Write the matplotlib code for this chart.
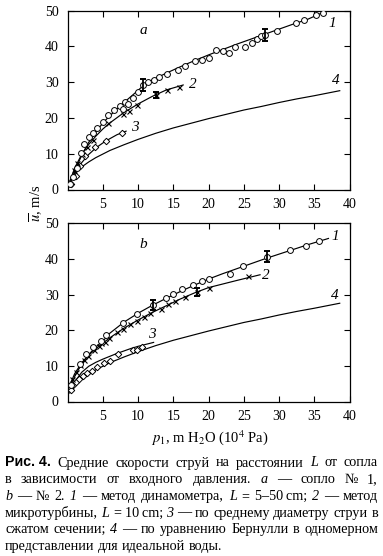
import matplotlib
matplotlib.use('Agg')
import matplotlib.pyplot as plt

plt.rcParams['font.family'] = ['Liberation Serif', 'DejaVu Serif']
plt.rcParams['mathtext.fontset'] = 'stix'

# ---------------- data ----------------
x_ticks = [5, 10, 15, 20, 25, 30, 35, 40]
y_ticks = [0, 10, 20, 30, 40, 50]

# Bernoulli curve (4), same on both panels
c4_x = [0.3, 0.5, 0.8, 1.0, 1.5, 2.0, 2.5, 3.0, 4.0, 5.0, 6.0, 7.0, 8.0, 10.0, 12.5, 15.0, 17.5, 20.0, 22.5, 25.0, 27.5, 30.0, 32.5, 35.0, 38.6]
c4_y = [2.4, 3.1, 4.0, 4.4, 5.4, 6.3, 7.0, 7.7, 8.9, 9.9, 10.9, 11.7, 12.5, 14.0, 15.7, 17.2, 18.5, 19.8, 21.0, 22.2, 23.2, 24.3, 25.3, 26.2, 27.6]

# ---- panel a ----
a1_x = [0.4, 0.7, 1.4, 1.9, 2.3, 3.0, 3.6, 4.2, 5.0, 5.8, 6.6, 7.4, 7.9, 8.1, 8.6, 9.3, 10.0, 10.7, 11.4,
        12.2, 12.9, 14.1, 15.7, 16.7, 18.1, 19.1, 20.1, 21.1, 22.1, 22.9, 23.8, 25.1, 26.1, 26.8, 27.4,
        28.0, 29.7, 32.4, 33.6, 35.2, 36.2]
a1_y = [1.6, 3.4, 5.9, 10.3, 12.8, 14.7, 15.9, 17.3, 18.8, 20.8, 22.1, 23.3, 22.4, 24.5, 24.0, 25.6, 27.2, 29.2, 30.0,
        30.5, 31.3, 32.2, 33.5, 34.6, 35.9, 36.1, 36.6, 39.1, 38.6, 38.2, 39.8, 39.8, 41.0, 41.9, 42.8,
        43.2, 44.2, 46.4, 47.3, 48.7, 49.2]
a1_err_x = [10.7, 28.0]
a1_err_y = [29.2, 43.2]
a1_err = [1.8, 1.6]
a1_fit_x = [0.3, 1, 2, 3, 4, 5, 6, 7, 8, 9, 10, 11, 12, 14, 16, 18, 20, 22, 24, 26, 28, 30, 32, 34, 36.5]
a1_fit_y = [1.5, 5.0, 9.6, 13.2, 16.0, 18.6, 20.6, 22.5, 24.3, 26.0, 27.7, 29.5, 30.6, 32.5, 34.3, 36.0, 37.6,
            39.1, 40.6, 42.0, 43.4, 44.8, 46.2, 47.5, 49.7]

a2_x = [0.9, 1.3, 2.0, 2.8, 3.6, 5.8, 7.9, 8.7, 9.9, 12.6, 14.1, 15.8]
a2_y = [5.5, 7.3, 10.0, 12.0, 13.8, 18.5, 21.0, 22.0, 23.5, 26.4, 27.8, 28.6]
a2_err_x = [12.6]
a2_err_y = [26.4]
a2_err = [0.8]
a2_fit_x = [0.5, 1, 2, 3, 4, 5, 6, 8, 10, 12, 14, 16.4]
a2_fit_y = [3.2, 6.0, 9.8, 12.6, 14.9, 16.9, 18.6, 21.5, 23.9, 26.0, 27.8, 29.2]

a3_x = [0.5, 1.2, 1.8, 2.5, 3.9, 5.5, 7.7]
a3_y = [1.4, 3.8, 6.6, 9.4, 11.8, 13.6, 15.9]
a3_fit_x = [0.4, 1, 2, 3, 4, 5, 6, 7, 8.3]
a3_fit_y = [2.2, 4.5, 7.5, 9.8, 11.6, 13.0, 14.2, 15.3, 16.3]

# ---- panel b ----
b1_x = [0.5, 1.8, 2.6, 3.6, 4.7, 5.4, 7.8, 9.9, 12.1, 14.0, 14.9, 16.2, 17.8, 19.0, 20.0, 23.0, 24.9,
        28.3, 31.6, 33.8, 35.7]
b1_y = [4.7, 10.4, 13.4, 15.4, 17.1, 18.7, 22.1, 24.5, 27.1, 29.1, 30.1, 31.5, 32.8, 33.8, 34.5, 35.8, 38.1,
        40.7, 42.6, 43.8, 45.1]
b1_err_x = [12.1, 28.3]
b1_err_y = [27.1, 40.7]
b1_err = [1.5, 1.5]
b1_fit_x = [0.5, 1, 2, 3, 4, 5, 5.5, 6, 8, 10, 12, 14, 16, 18, 20, 22, 24, 26, 28, 30, 32, 34, 37]
b1_fit_y = [4.5, 7.0, 10.6, 13.2, 15.3, 17.0, 18.0, 19.2, 22.3, 24.8, 27.0, 29.0, 30.9, 32.7, 34.4, 35.9,
            37.3, 38.7, 40.1, 41.4, 42.7, 44.0, 45.8]

b2_x = [0.6, 1.2, 1.8, 2.3, 2.9, 3.7, 4.4, 4.8, 5.3, 5.9, 7.0, 7.9, 8.85, 9.8, 10.8, 11.7, 13.3, 14.3,
        15.2, 16.7, 18.3, 20.0, 25.6]
b2_y = [6.3, 8.4, 10.3, 11.7, 12.8, 14.5, 15.6, 16.3, 16.8, 17.9, 19.6, 20.5, 21.7, 22.6, 23.8, 24.8, 26.0,
        27.3, 28.2, 29.4, 30.7, 31.8, 35.3]
b2_err_x = [18.3]
b2_err_y = [30.7]
b2_err = [1.1]
b2_fit_x = [0.5, 1, 2, 3, 4, 5, 6, 8, 10, 12, 14, 16, 18, 20, 22, 24, 27.3]
b2_fit_y = [5.5, 7.8, 10.9, 13.0, 14.8, 16.4, 17.9, 20.6, 22.9, 25.0, 26.9, 28.8, 30.5, 32.0, 33.0, 34.0, 35.6]

b3_x = [0.5, 0.8, 1.15, 1.6, 2.2, 2.8, 3.4, 4.1, 5.1, 6.0, 7.1, 9.3, 9.8, 10.5]
b3_y = [3.1, 4.5, 5.5, 6.2, 7.2, 8.0, 8.6, 9.8, 10.8, 11.5, 13.3, 14.4, 14.6, 15.2]
b3_fit_x = [0.5, 1, 2, 3, 4, 5, 6, 7, 8, 9, 10, 11, 12.2]
b3_fit_y = [3.5, 5.5, 8.2, 9.9, 11.0, 11.9, 12.7, 13.5, 14.2, 14.9, 15.5, 16.0, 16.6]

panel_letters = ['a', 'b']
x_label = r'$p_1$, m H$_2$O (10$^4$ Pa)'
y_label = r'$\overline{u}$, m/s'

caption_lines = [
    [('Рис. 4.', 'b'), ('Средние', 'r'), ('скорости', 'r'), ('струй', 'r'), ('на', 'r'), ('расстоянии', 'r'),
     ('L', 'i'), ('от', 'r'), ('сопла', 'r')],
    [('в', 'r'), ('зависимости', 'r'), ('от', 'r'), ('входного', 'r'), ('давления.', 'r'), ('a', 'i'),
     ('—', 'r'), ('сопло', 'r'), ('№', 'r'), ('1,', 'r')],
    [('b', 'i'), ('—', 'r'), ('№', 'r'), ('2.', 'r'), ('1', 'i'), ('—', 'r'), ('метод', 'r'),
     ('динамометра,', 'r'), ('L', 'i'), ('=', 'r'), ('5–50\u2009cm;', 'r'), ('2', 'i'), ('—', 'r'), ('метод', 'r')],
    [('микротурбины,', 'r'), ('L', 'i'), ('=', 'r'), ('10\u2009cm;', 'r'), ('3', 'i'), ('—', 'r'), ('по', 'r'),
     ('среднему', 'r'), ('диаметру', 'r'), ('струи', 'r'), ('в', 'r')],
    [('сжатом', 'r'), ('сечении;', 'r'), ('4', 'i'), ('—', 'r'), ('по', 'r'), ('уравнению', 'r'),
     ('Бернулли', 'r'), ('в', 'r'), ('одномерном', 'r')],
    [('представлении', 'r'), ('для', 'r'), ('идеальной', 'r'), ('воды.', 'r')],
]

# ---------------- layout ----------------
W, H = 383, 556
fig = plt.figure(figsize=(W / 100, H / 100), dpi=100)


def fx(px):
    return px / W


def fy(py):
    return 1 - py / H


x_left, x_right = 67.6, 349.6
axA = fig.add_axes([fx(x_left), fy(189.5), (x_right - x_left) / W, (189.5 - 10.5) / H])
axB = fig.add_axes([fx(x_left), fy(401.5), (x_right - x_left) / W, (401.5 - 223.5) / H])

TICK_FS = 10
LW = 0.85


def style_axes(ax):
    ax.set_xlim(0, 40)
    ax.set_ylim(0, 50)
    ax.set_xticks(x_ticks)
    ax.set_yticks(y_ticks)
    ax.tick_params(direction='in', top=True, right=True, length=4, width=0.8,
                   labelsize=TICK_FS, pad=6.5)
    ax.tick_params(axis='x', pad=6)
    for s in ax.spines.values():
        s.set_linewidth(0.9)


def draw_common(ax):
    ax.plot(c4_x, c4_y, color='k', lw=LW, zorder=2)


circ = dict(linestyle='none', marker='o', ms=4.2, mfc='white', mec='k', mew=0.7, zorder=4)
cross = dict(linestyle='none', marker='x', ms=3.6, mec='k', mew=0.8, zorder=4)
diam = dict(linestyle='none', marker='D', ms=3.3, mfc='white', mec='k', mew=0.7, zorder=4)
errkw = dict(fmt='none', ecolor='k', elinewidth=1.3, capsize=2.4, capthick=1.4, zorder=5)

# panel a
ax = axA
style_axes(ax)
draw_common(ax)
ax.plot(a1_fit_x, a1_fit_y, color='k', lw=LW, zorder=2)
ax.plot(a2_fit_x, a2_fit_y, color='k', lw=LW, zorder=2)
ax.plot(a3_fit_x, a3_fit_y, color='k', lw=LW, zorder=2)
ax.plot(a3_x, a3_y, **diam)
ax.plot(a2_x, a2_y, **cross)
ax.plot(a1_x, a1_y, **circ)
ax.errorbar(a1_err_x, a1_err_y, yerr=a1_err, **errkw)
ax.errorbar(a2_err_x, a2_err_y, yerr=a2_err, **errkw)
lab = dict(fontsize=11, style='italic', ha='center', va='center')
ax.text(10.7, 44.5, panel_letters[0], **lab)
ax.text(37.5, 46.4, '1', **lab)
ax.text(17.7, 29.4, '2', **lab)
ax.text(9.6, 17.2, '3', **lab)
ax.text(38.0, 30.4, '4', **lab)

# panel b
ax = axB
style_axes(ax)
draw_common(ax)
ax.plot(b1_fit_x, b1_fit_y, color='k', lw=LW, zorder=2)
ax.plot(b2_fit_x, b2_fit_y, color='k', lw=LW, zorder=2)
ax.plot(b3_fit_x, b3_fit_y, color='k', lw=LW, zorder=2)
ax.plot(b3_x, b3_y, **diam)
ax.plot(b2_x, b2_y, **cross)
ax.plot(b1_x, b1_y, **circ)
ax.errorbar(b1_err_x, b1_err_y, yerr=b1_err, **errkw)
ax.errorbar(b2_err_x, b2_err_y, yerr=b2_err, **errkw)
ax.text(10.7, 44.0, panel_letters[1], **lab)
ax.text(37.9, 46.3, '1', **lab)
ax.text(28.1, 35.3, '2', **lab)
ax.text(11.9, 18.7, '3', **lab)
ax.text(37.9, 29.9, '4', **lab)

# axis labels
fig.text(fx(36), fy(203), y_label, rotation=90, ha='center', va='center', fontsize=10.5)
fig.text(fx(210), fy(438), x_label, ha='center', va='center', fontsize=10.5)

# ---------------- caption (justified) ----------------
CAP_FS = 10.2
cap_left, cap_right = 5.0, 378.0
baseline0, line_step = 466.5, 16.7
renderer = fig.canvas.get_renderer()


def make_token(s, kind):
    if kind == 'b':
        return fig.text(0, 0, s, fontsize=CAP_FS, fontweight='bold',
                        family=['Liberation Sans', 'DejaVu Sans'], va='baseline', ha='left')
    if kind == 'i':
        return fig.text(0, 0, s, fontsize=CAP_FS, style='italic', va='baseline', ha='left')
    return fig.text(0, 0, s, fontsize=CAP_FS, va='baseline', ha='left')


space_probe = fig.text(0, 0, 'a a', fontsize=CAP_FS)
aa = fig.text(0, 0, 'aa', fontsize=CAP_FS)
space_w = (space_probe.get_window_extent(renderer).width - aa.get_window_extent(renderer).width)
space_probe.remove()
aa.remove()

for i, line in enumerate(caption_lines):
    toks = [make_token(s, k) for s, k in line]
    widths = [t.get_window_extent(renderer).width for t in toks]
    last = (i == len(caption_lines) - 1)
    if last or len(toks) < 2:
        gap = space_w
    else:
        gap = (cap_right - cap_left - sum(widths)) / (len(toks) - 1)
    xcur = cap_left
    by = baseline0 + i * line_step
    for t, w in zip(toks, widths):
        t.set_position((fx(xcur), fy(by)))
        xcur += w + gap

fig.savefig('out.png', dpi=100)
